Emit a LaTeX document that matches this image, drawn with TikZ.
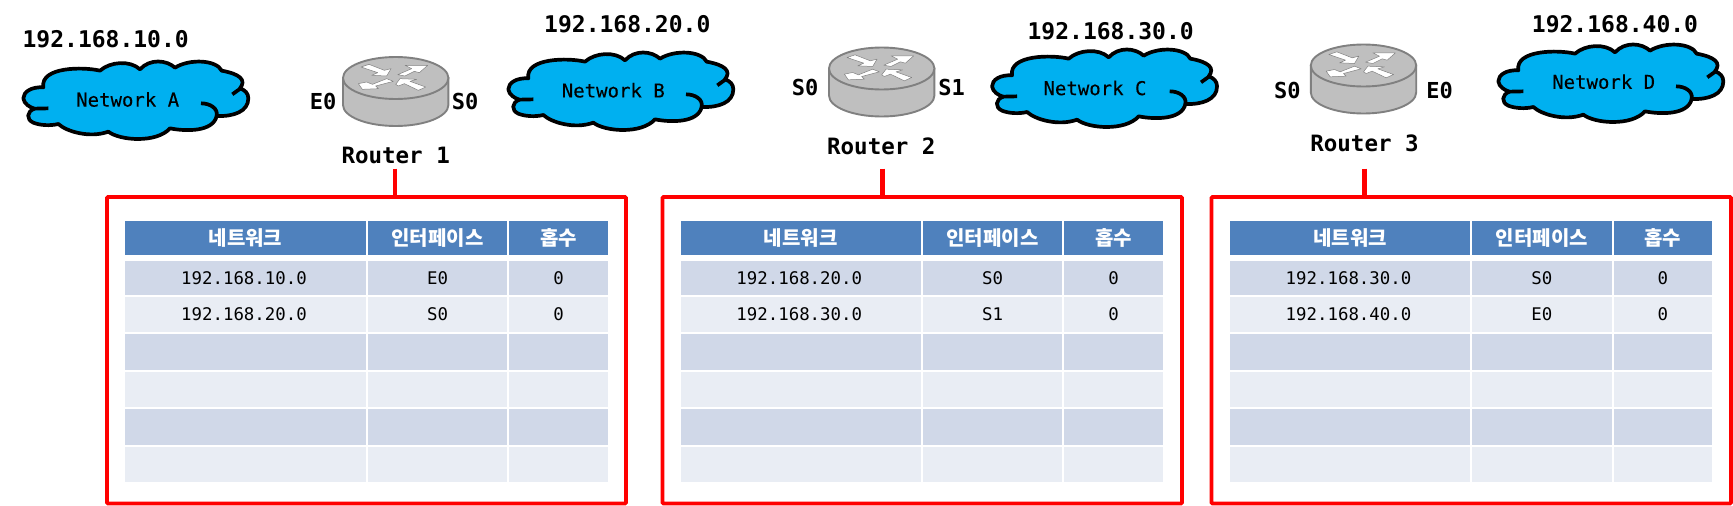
\documentclass[tikz,border=0pt]{standalone}
\usepackage{fontspec}
\setmonofont{DejaVu Sans Mono}
\newfontfamily\krfont{Noto Sans CJK KR}
\newfontfamily\netfont[FakeBold=0.25]{DejaVu Sans Mono}
\definecolor{cloudblue}{HTML}{00B0F0}
\definecolor{hdrblue}{HTML}{4F81BD}
\definecolor{rowdark}{HTML}{D0D8E8}
\definecolor{rowlight}{HTML}{E9EDF4}
\definecolor{rtrbody}{HTML}{BFBFBF}
\definecolor{rtredge}{HTML}{808080}
\definecolor{boxred}{HTML}{FF0000}
\tikzset{
  iplabel/.style={font=\ttfamily\bfseries\fontsize{23}{27}\selectfont,inner sep=0pt},
  rtrlabel/.style={font=\ttfamily\bfseries\fontsize{22.5}{27}\selectfont,inner sep=0pt},
  portlabel/.style={font=\ttfamily\bfseries\fontsize{22}{26}\selectfont,inner sep=0pt},
  netlabel/.style={font=\netfont\fontsize{19}{23}\selectfont,inner sep=0pt},
  celltext/.style={font=\ttfamily\fontsize{17.4}{21}\selectfont,inner sep=0pt,text=black},
  iptext/.style={celltext,xshift=-1.5pt},
  hdrtext/.style={font=\krfont\bfseries\fontsize{20}{24}\selectfont,inner sep=0pt,text=white},
  redbox/.style={draw=boxred,line width=3.6pt,rounded corners=1pt,inner sep=0pt,outer sep=0pt,anchor=north west},
  redtick/.style={draw=boxred,line width=4.4pt},
  cloudline/.style={draw=black,line width=3.7pt},
  rtrline/.style={draw=rtredge,line width=1.9pt,fill=rtrbody},
  arrowshape/.style={fill=white,draw=rtredge,line width=.5pt,line join=round},
  cloudshape/.pic={
    \begin{scope}[x=0.33333pt,y=-0.33333pt]
      \path[cloudline,fill=cloudblue,line join=round]
        (130,262) .. controls (95,260) and (70,275) .. (70,295)
        .. controls (72,312) and (90,322) .. (103,326)
        .. controls (80,335) and (78,358) .. (100,368)
        .. controls (120,376) and (150,378) .. (175,372)
        .. controls (200,395) and (270,415) .. (325,395)
        .. controls (360,422) and (470,430) .. (510,385)
        .. controls (560,395) and (640,395) .. (650,348)
        .. controls (700,350) and (745,335) .. (745,295)
        .. controls (745,280) and (735,270) .. (720,265)
        .. controls (740,240) and (720,222) .. (665,212)
        .. controls (650,180) and (570,175) .. (525,203)
        .. controls (500,180) and (450,175) .. (420,208)
        .. controls (390,180) and (330,185) .. (300,212)
        .. controls (250,200) and (120,200) .. (130,262) -- cycle;
      \path[cloudline] (103,326) -- (145,325);
      \path[cloudline] (697,283) -- (722,265);
      \path[cloudline] (603,310) .. controls (630,310) and (655,325) .. (650,348);
    \end{scope}
  },
  routershape/.pic={
    \path[rtrline] (-52.7,0) -- (-52.7,27) arc[start angle=180,end angle=360,x radius=52.7,y radius=-21] -- (52.7,0) -- cycle;
    \path[rtrline] (0,0) ellipse[x radius=52.7,y radius=21];
    \begin{scope}[x=0.33333pt,y=-0.33333pt,shift={(-197,-99)}]
      \path[arrowshape] (93,66) -- (117,58) -- (163,76) -- (183,71) -- (170,93) -- (125,91) -- (143,83) -- cycle;
      \path[arrowshape] (203,89) -- (245,71) -- (225,61) -- (293,61) -- (268,83) -- (253,79) -- (225,93) -- cycle;
      \path[arrowshape] (170,101) -- (127,118) -- (110,111) -- (85,116) -- (97,133) -- (145,131) -- (137,123) -- (190,109) -- cycle;
      \path[arrowshape] (197,118) -- (210,101) -- (260,103) -- (240,109) -- (287,126) -- (265,136) -- (223,116) -- (205,123) -- cycle;
    \end{scope}
  }
}
% \cellbox{name}{x1}{x2}{y1}{y2}{fill}{style}{text}
\newcommand{\cellbox}[8]{%
  \fill[#6] (#2,#4) rectangle (#3,#5);
  \node[#7] (#1) at ({(#2+#3)/2},{(#4+#5)/2}) {#8};
}
% \rtable{prefix}{x0}{xa}{xb}{x1}{ip1}{if1}{ip2}{if2}
\newcommand{\rtable}[9]{%
  \cellbox{#1h1}{#2}{#3-1}{221}{255}{hdrblue}{hdrtext}{네트워크}
  \cellbox{#1h2}{#3+1}{#4-1}{221}{255}{hdrblue}{hdrtext}{인터페이스}
  \cellbox{#1h3}{#4+1}{#5}{221}{255}{hdrblue}{hdrtext}{홉수}
  \cellbox{#1a1}{#2}{#3-1}{261}{294.5}{rowdark}{iptext}{#6}
  \cellbox{#1a2}{#3+1}{#4-1}{261}{294.5}{rowdark}{celltext}{#7}
  \cellbox{#1a3}{#4+1}{#5}{261}{294.5}{rowdark}{celltext}{0}
  \cellbox{#1b1}{#2}{#3-1}{296.5}{332}{rowlight}{iptext}{#8}
  \cellbox{#1b2}{#3+1}{#4-1}{296.5}{332}{rowlight}{celltext}{#9}
  \cellbox{#1b3}{#4+1}{#5}{296.5}{332}{rowlight}{celltext}{0}
  \cellbox{#1c1}{#2}{#3-1}{334}{369.5}{rowdark}{celltext}{}
  \cellbox{#1c2}{#3+1}{#4-1}{334}{369.5}{rowdark}{celltext}{}
  \cellbox{#1c3}{#4+1}{#5}{334}{369.5}{rowdark}{celltext}{}
  \cellbox{#1d1}{#2}{#3-1}{371.5}{407}{rowlight}{celltext}{}
  \cellbox{#1d2}{#3+1}{#4-1}{371.5}{407}{rowlight}{celltext}{}
  \cellbox{#1d3}{#4+1}{#5}{371.5}{407}{rowlight}{celltext}{}
  \cellbox{#1e1}{#2}{#3-1}{409}{444.5}{rowdark}{celltext}{}
  \cellbox{#1e2}{#3+1}{#4-1}{409}{444.5}{rowdark}{celltext}{}
  \cellbox{#1e3}{#4+1}{#5}{409}{444.5}{rowdark}{celltext}{}
  \cellbox{#1f1}{#2}{#3-1}{446.5}{482}{rowlight}{celltext}{}
  \cellbox{#1f2}{#3+1}{#4-1}{446.5}{482}{rowlight}{celltext}{}
  \cellbox{#1f3}{#4+1}{#5}{446.5}{482}{rowlight}{celltext}{}
}
\begin{document}
\begin{tikzpicture}[x=1pt,y=-1pt]
\useasboundingbox (0,0) rectangle (1733,506);
% clouds
\pic at (0,0) {cloudshape};
\pic at (485,-9) {cloudshape};
\pic at (968.7,-12) {cloudshape};
\pic at (1475,-17) {cloudshape};
\node[netlabel] (netA) at (127.7,99.5) {Network A};
\node[netlabel] (netB) at (613.3,90.3) {Network B};
\node[netlabel] (netC) at (1095,88) {Network C};
\node[netlabel] (netD) at (1603.7,81.7) {Network D};
\node[iplabel] (ipA) at (105.7,39.3) {192.168.10.0};
\node[iplabel] (ipB) at (627.3,24.3) {192.168.20.0};
\node[iplabel] (ipC) at (1110.7,30.7) {192.168.30.0};
\node[iplabel] (ipD) at (1615,24) {192.168.40.0};
% routers
\pic at (395.7,78) {routershape};
\pic at (881.7,68.5) {routershape};
\pic at (1363.5,65.5) {routershape};
\node[rtrlabel] (r1) at (395.7,155) {Router 1};
\node[rtrlabel] (r2) at (881.3,146) {Router 2};
\node[rtrlabel] (r3) at (1364.5,143.3) {Router 3};
\node[portlabel] (r1e) at (323,101.7) {E0};
\node[portlabel] (r1s) at (465,101.7) {S0};
\node[portlabel] (r2a) at (805,87.7) {S0};
\node[portlabel] (r2b) at (951.7,87.7) {S1};
\node[portlabel] (r3a) at (1287.4,90) {S0};
\node[portlabel] (r3b) at (1439.6,90) {E0};
% boxes
\node[redbox,minimum width=519pt,minimum height=306.5pt] (box1) at (107,197) {};
\node[redbox,minimum width=519.5pt,minimum height=306.5pt] (box2) at (662.5,197) {};
\node[redbox,minimum width=519.5pt,minimum height=306.5pt] (box3) at (1211.5,197) {};
\coordinate (t1) at (395,168.5);
\coordinate (t2) at (882.5,168.5);
\coordinate (t3) at (1364.5,168.5);
\draw[redtick] (t1) -- (t1 |- box1.north);
\draw[redtick] (t2) -- (t2 |- box2.north);
\draw[redtick] (t3) -- (t3 |- box3.north);
% tables
\rtable{p}{125}{367}{508}{608}{192.168.10.0}{E0}{192.168.20.0}{S0}
\rtable{q}{680.5}{922}{1063}{1163}{192.168.20.0}{S0}{192.168.30.0}{S1}
\rtable{s}{1230}{1471}{1612.8}{1712}{192.168.30.0}{S0}{192.168.40.0}{E0}
\end{tikzpicture}
\end{document}
